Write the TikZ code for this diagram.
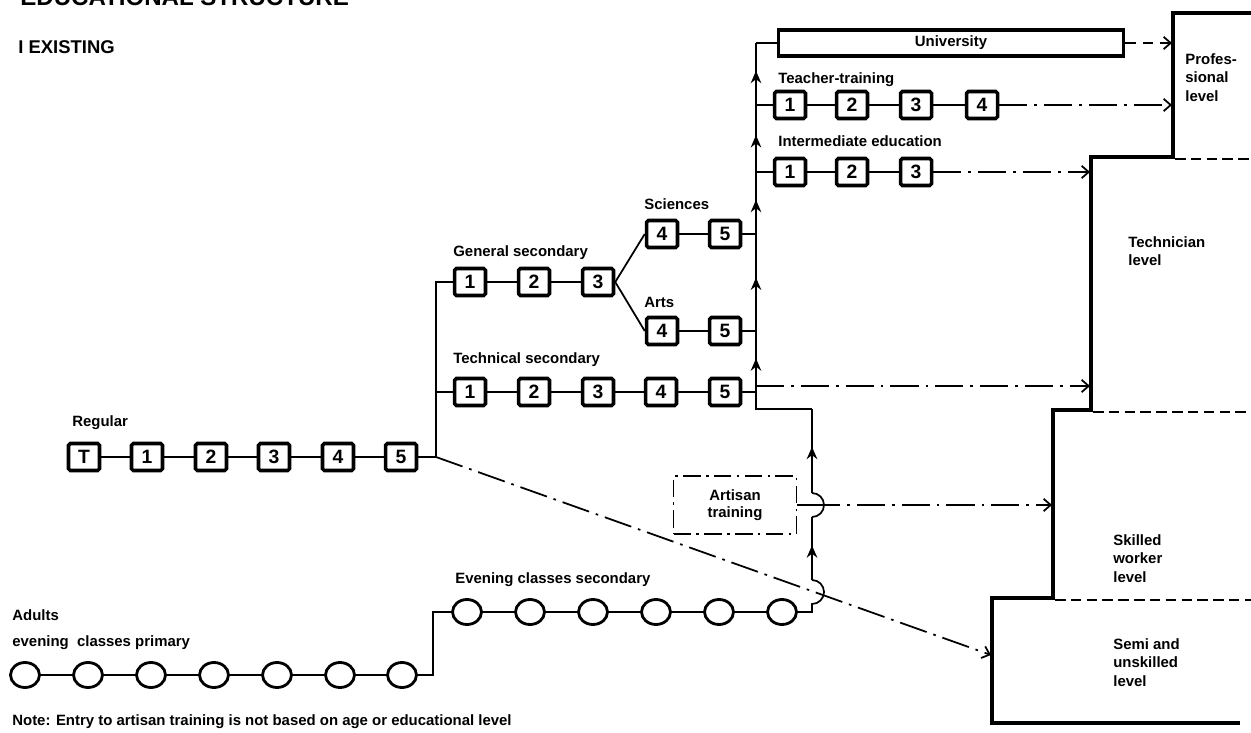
\documentclass[tikz,border=0pt]{standalone}
\usepackage{fontspec}
\setmainfont{Liberation Sans}
\usetikzlibrary{shapes.geometric, arrows.meta, positioning, decorations.markings}

\begin{document}
\begin{tikzpicture}[
    x=0.02cm, y=-0.02cm,
    line/.style = {draw=black, line width=1pt},
    yearbox/.style = {rectangle, draw=black, line width=2pt, rounded corners=1pt, minimum width=0.62cm, minimum height=0.54cm, inner sep=0pt, font=\bfseries\fontsize{11}{11}\selectfont},
    classring/.style = {ellipse, draw=black, line width=1.6pt, minimum width=0.58cm, minimum height=0.5cm, inner sep=0pt},
    lbl/.style = {anchor=west, inner sep=0pt, font=\bfseries\fontsize{8.5}{10}\selectfont},
    lvl/.style = {anchor=north west, align=left, inner sep=0pt, font=\bfseries\fontsize{8.5}{10.5}\selectfont},
    dashdot/.style = {line width=1pt, dash pattern=on 16pt off 4pt on 1.5pt off 4pt, -{Straight Barb[length=4pt, width=7pt]}},
    stair/.style = {line width=2.2pt, line join=miter},
    levelsep/.style = {line width=0.9pt, dash pattern=on 6pt off 3pt},
    uparrow/.style = {postaction={decorate}, decoration={markings, mark=at position 0.55 with {\arrow{Stealth[length=7pt, width=6pt]}}}}
]
    \useasboundingbox (0, 0) rectangle (1251, 733);

    % Headings
    \node [anchor=base west, inner sep=0pt, font=\bfseries\fontsize{13.7}{14}\selectfont] (title) at (20, 6) {EDUCATIONAL STRUCTURE};
    \node [anchor=west, inner sep=0pt, font=\bfseries\fontsize{10.5}{12}\selectfont] (existing) at (18, 47) {I EXISTING};

    % Regular row
    \node [lbl] (reglbl) at (72, 423) {Regular};
    \node [yearbox] (regT) at (84, 457) {T};
    \node [yearbox] (reg1) at (147, 457) {1};
    \node [yearbox] (reg2) at (211, 457) {2};
    \node [yearbox] (reg3) at (274, 457) {3};
    \node [yearbox] (reg4) at (338, 457) {4};
    \node [yearbox] (reg5) at (401, 457) {5};

    % General secondary
    \node [lbl] (genlbl) at (453, 253) {General secondary};
    \node [yearbox] (gen1) at (470, 282) {1};
    \node [yearbox] (gen2) at (534, 282) {2};
    \node [yearbox] (gen3) at (598, 282) {3};
    \node [lbl] (scilbl) at (644, 204) {Sciences};
    \node [yearbox] (sci4) at (662, 234) {4};
    \node [yearbox] (sci5) at (725, 234) {5};
    \node [lbl] (artslbl) at (644, 302) {Arts};
    \node [yearbox] (arts4) at (662, 331) {4};
    \node [yearbox] (arts5) at (725, 331) {5};

    % Technical secondary
    \node [lbl] (teclbl) at (453, 360) {Technical secondary};
    \node [yearbox] (tec1) at (470, 392) {1};
    \node [yearbox] (tec2) at (534, 392) {2};
    \node [yearbox] (tec3) at (598, 392) {3};
    \node [yearbox] (tec4) at (661, 392) {4};
    \node [yearbox] (tec5) at (725, 392) {5};

    % Higher education
    \node [rectangle, draw=black, line width=2pt, minimum width=6.9cm, minimum height=0.52cm, inner sep=0pt, font=\bfseries\fontsize{8.5}{10}\selectfont] (uni) at (951, 43) {University};
    \node [lbl] (tealbl) at (778, 80) {Teacher-training};
    \node [yearbox] (tea1) at (790, 105) {1};
    \node [yearbox] (tea2) at (852, 105) {2};
    \node [yearbox] (tea3) at (916, 105) {3};
    \node [yearbox] (tea4) at (982, 105) {4};
    \node [lbl] (intlbl) at (778, 141) {Intermediate education};
    \node [yearbox] (int1) at (790, 172) {1};
    \node [yearbox] (int2) at (852, 172) {2};
    \node [yearbox] (int3) at (916, 172) {3};

    % Artisan training
    \node [rectangle, draw=black, line width=1pt, dash pattern=on 10pt off 3pt on 1.5pt off 3pt, minimum width=2.46cm, minimum height=1.16cm, align=center, font=\bfseries\fontsize{8.5}{10}\selectfont] (artisan) at (735, 505) {Artisan\\training};

    % Adults
    \node [lbl] (seclbl) at (455, 580) {Evening classes secondary};
    \node [classring] (sec1) at (467, 612) {};
    \node [classring] (sec2) at (530, 612) {};
    \node [classring] (sec3) at (593, 612) {};
    \node [classring] (sec4) at (656, 612) {};
    \node [classring] (sec5) at (719, 612) {};
    \node [classring] (sec6) at (782, 612) {};
    \node [lbl] (adulbl) at (12, 615) {Adults};
    \node [lbl] (primlbl) at (12, 643) {evening\ \ classes primary};
    \node [classring] (prim1) at (25, 675) {};
    \node [classring] (prim2) at (88, 675) {};
    \node [classring] (prim3) at (151, 675) {};
    \node [classring] (prim4) at (214, 675) {};
    \node [classring] (prim5) at (277, 675) {};
    \node [classring] (prim6) at (340, 675) {};
    \node [classring] (prim7) at (402, 675) {};
    \node [lbl] (note) at (12, 722) {Note: Entry to artisan training is not based on age or educational level};

    % Levels
    \draw [stair] (1251, 13) -- (1173, 13) -- (1173, 157) -- (1091, 157) -- (1091, 410) -- (1053, 410) -- (1053, 598) -- (992, 598) -- (992, 723) -- (1240, 723);
    \draw [levelsep] (1175, 159) -- (1251, 159);
    \draw [levelsep] (1093, 412) -- (1251, 412);
    \draw [levelsep] (1055, 600) -- (1251, 600);
    \node [lvl] (lvlprof) at (1185, 53) {Profes-\\sional\\level};
    \node [lvl] (lvltech) at (1128, 236) {Technician\\level};
    \node [lvl] (lvlskill) at (1113, 534) {Skilled\\worker\\level};
    \node [lvl] (lvlsemi) at (1113, 638) {Semi and\\unskilled\\level};

    % Junctions
    \coordinate (jreg) at (436, 457);
    \coordinate (jadu) at (433, 675);
    \coordinate (jtec) at (756, 392);
    \coordinate (jtecdd) at (756, 386);
    \coordinate (jbend) at (756, 409);
    \coordinate (jcol) at (812, 409);
    \coordinate (jsec) at (812, 612);
    \coordinate (hoplow) at (812, 604);
    \coordinate (hoplowtop) at (812, 580);
    \coordinate (hopart) at (812, 505);
    \coordinate (hoparttop) at (812, 493);
    \coordinate (hopartlow) at (812, 517);

    % Level targets
    \coordinate (profuni) at (1172, 43);
    \coordinate (proftea) at (1172, 105);
    \coordinate (techint) at (1090, 172);
    \coordinate (techtec) at (1090, 386);
    \coordinate (skillart) at (1052, 505);
    \coordinate (semireg) at (991, 655);

    % Arrows - Regular and secondary
    \draw [line] (regT) -- (reg1) -- (reg2) -- (reg3) -- (reg4) -- (reg5) -- (jreg);
    \draw [line] (jreg) |- (gen1);
    \draw [line] (jreg |- tec1) -- (tec1);
    \draw [line] (gen1) -- (gen2) -- (gen3);
    \draw [line] (gen3.east) -- (sci4.west);
    \draw [line] (gen3.east) -- (arts4.west);
    \draw [line] (sci4) -- (sci5) -- (jtec |- sci5);
    \draw [line] (arts4) -- (arts5) -- (jtec |- arts5);
    \draw [line] (tec1) -- (tec2) -- (tec3) -- (tec4) -- (tec5) -- (jtec);

    % Arrows - Up the column
    \draw [line, uparrow] (jtec) -- (jtec |- arts5);
    \draw [line, uparrow] (jtec |- arts5) -- (jtec |- sci5);
    \draw [line, uparrow] (jtec |- sci5) -- (jtec |- int1);
    \draw [line, uparrow] (jtec |- int1) -- (jtec |- tea1);
    \draw [line, uparrow] (jtec |- tea1) -- (jtec |- uni);
    \draw [line] (jtec |- uni) -- (uni);
    \draw [line] (jtec |- tea1) -- (tea1) -- (tea2) -- (tea3) -- (tea4);
    \draw [line] (jtec |- int1) -- (int1) -- (int2) -- (int3);

    % Arrows - Adults
    \draw [line] (prim1) -- (prim2) -- (prim3) -- (prim4) -- (prim5) -- (prim6) -- (prim7) -- (jadu) |- (sec1);
    \draw [line] (sec1) -- (sec2) -- (sec3) -- (sec4) -- (sec5) -- (sec6) -- (jsec) -- (hoplow) arc [start angle=-90, end angle=90, radius=0.24cm];
    \draw [line, uparrow] (hoplowtop) -- (hopartlow);
    \draw [line] (hopartlow) arc [start angle=-90, end angle=90, radius=0.24cm];
    \draw [line, uparrow] (hoparttop) -- (jcol);
    \draw [line] (jcol) -- (jbend) -- (jtec);
    \draw [line] (artisan) -- (hopart);

    % Arrows - To levels
    \draw [line width=1pt, dash pattern=on 6pt off 4pt, -{Straight Barb[length=4pt, width=7pt]}] (uni) -- (profuni);
    \draw [dashdot] (tea4) -- (proftea);
    \draw [dashdot] (int3) -- (techint);
    \draw [dashdot] (jtecdd) -- (techtec);
    \draw [dashdot] (hopart) -- (skillart);
    \draw [dashdot] (jreg) -- (semireg);
\end{tikzpicture}
\end{document}
